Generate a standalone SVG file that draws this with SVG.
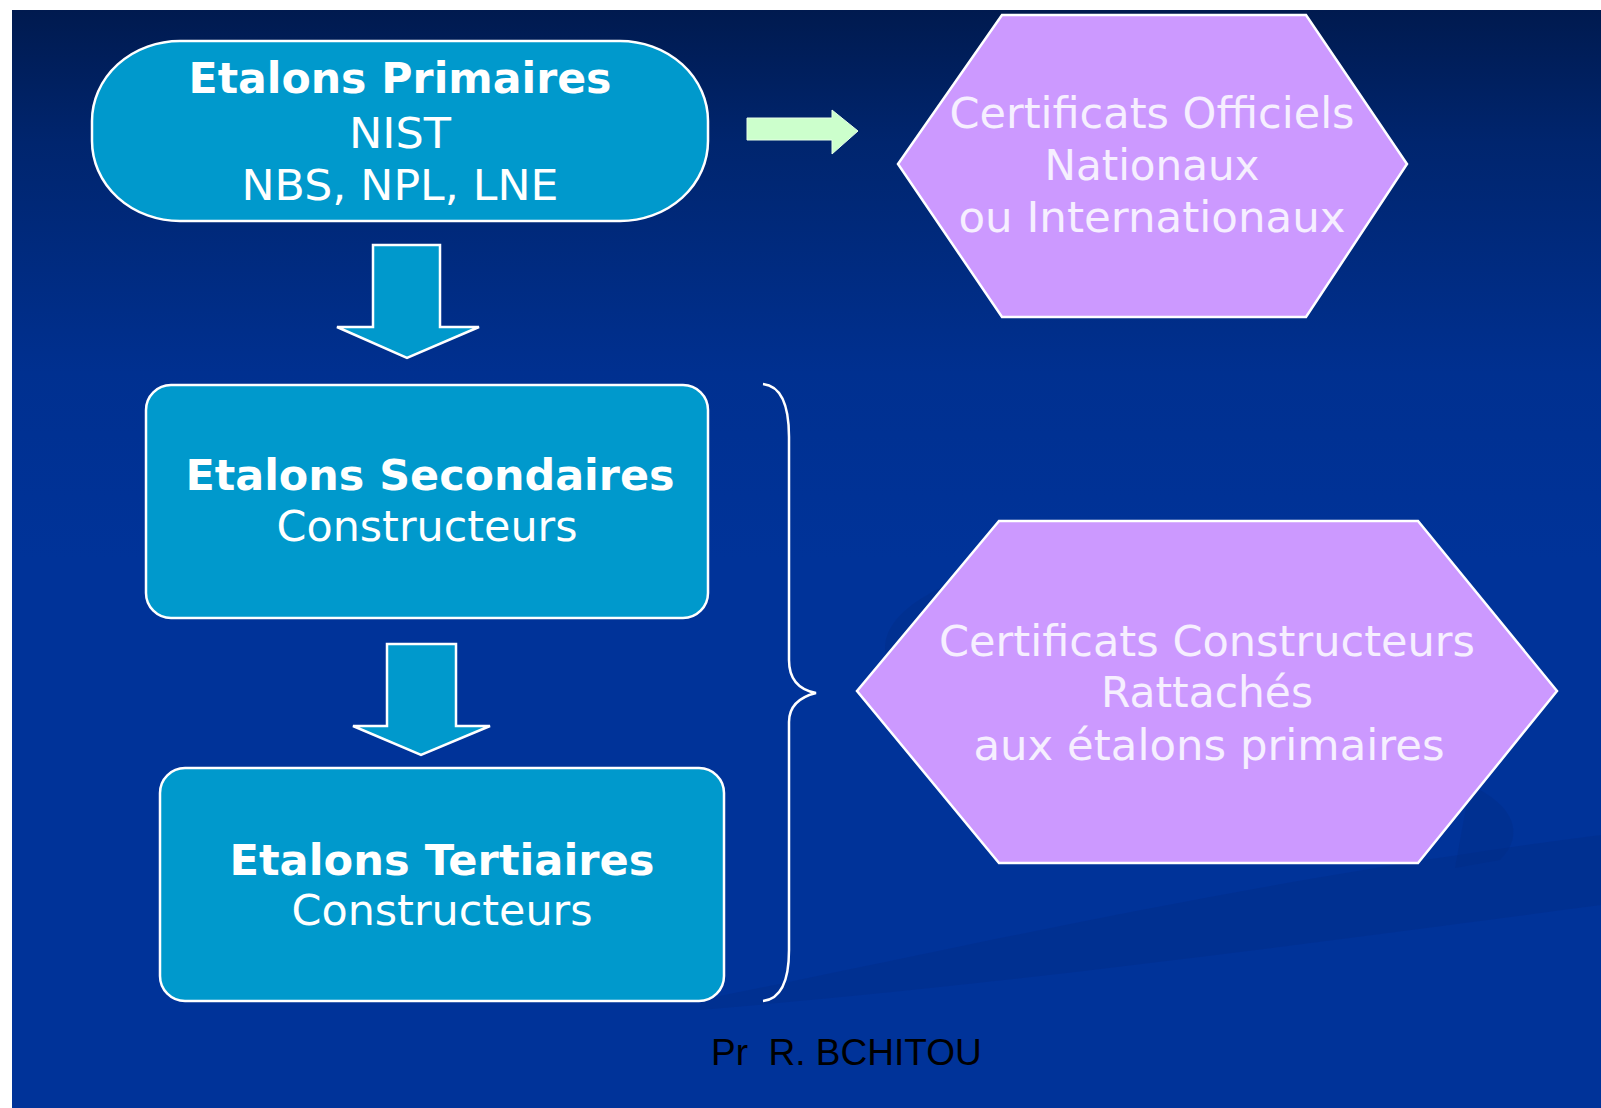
<svg xmlns="http://www.w3.org/2000/svg" width="1601" height="1108" viewBox="0 0 1601 1108">
  <defs>
    <linearGradient id="bg" x1="0" y1="0" x2="0" y2="1">
      <stop offset="0" stop-color="#001a4f"/>
      <stop offset="0.12" stop-color="#00256e"/>
      <stop offset="0.33" stop-color="#003090"/>
      <stop offset="0.5" stop-color="#003399"/>
      <stop offset="1" stop-color="#003399"/>
    </linearGradient>
  </defs>
  <style>
    .teal { fill: #0099cc; stroke: #ffffff; stroke-width: 2.5; }
    .lav { fill: #cc99ff; stroke: #ffffff; stroke-width: 2.5; }
    .t { font-family: "DejaVu Sans", Verdana, sans-serif; font-size: 42px; fill: #ffffff; text-anchor: middle; }
    .b { font-weight: bold; }
    .lt { fill: #f6efff; }
    .brace { fill: none; stroke: #ffffff; stroke-width: 2.5; }
    .swoosh { fill: #002a85; opacity: 0.35; }
  </style>

  <rect x="0" y="0" width="1601" height="1108" fill="#ffffff"/>
  <rect x="12" y="10" width="1589" height="1098" fill="url(#bg)"/>
  <g id="background-swooshes">
    <path class="swoosh" d="M700,1000 C950,950 1250,880 1601,835 L1601,905 C1300,945 1000,985 700,1010 Z"/>
    <path class="swoosh" d="M1000,565 C935,585 885,612 885,648 C885,682 930,692 985,684 Z"/>
    <path class="swoosh" d="M1470,785 C1515,805 1525,835 1500,860 L1455,868 Z"/>
  </g>

  <g id="node-primaires">
    <rect class="teal" x="92" y="41" width="616" height="180" rx="88" ry="80"/>
    <text class="t b" x="400" y="93" textLength="423" lengthAdjust="spacingAndGlyphs">Etalons Primaires</text>
    <text class="t" x="400" y="148" textLength="102" lengthAdjust="spacingAndGlyphs">NIST</text>
    <text class="t" x="400" y="200" textLength="317" lengthAdjust="spacingAndGlyphs">NBS, NPL, LNE</text>
  </g>

  <g id="node-certificats-officiels">
    <polygon class="lav" points="1002,15 1306,15 1407,164 1306,317 1002,317 898,164"/>
    <text class="t lt" x="1152" y="128" textLength="405" lengthAdjust="spacingAndGlyphs">Certificats Officiels</text>
    <text class="t lt" x="1152" y="180" textLength="215" lengthAdjust="spacingAndGlyphs">Nationaux</text>
    <text class="t lt" x="1152" y="232" textLength="387" lengthAdjust="spacingAndGlyphs">ou Internationaux</text>
  </g>

  <g id="node-secondaires">
    <rect class="teal" x="146" y="385" width="562" height="233" rx="25" ry="25"/>
    <text class="t b" x="430" y="490" textLength="489" lengthAdjust="spacingAndGlyphs">Etalons Secondaires</text>
    <text class="t" x="427" y="541" textLength="301" lengthAdjust="spacingAndGlyphs">Constructeurs</text>
  </g>

  <g id="node-tertiaires">
    <rect class="teal" x="160" y="768" width="564" height="233" rx="25" ry="25"/>
    <text class="t b" x="442" y="875" textLength="425" lengthAdjust="spacingAndGlyphs">Etalons Tertiaires</text>
    <text class="t" x="442" y="925" textLength="301" lengthAdjust="spacingAndGlyphs">Constructeurs</text>
  </g>

  <g id="node-certificats-constructeurs">
    <polygon class="lav" points="999,521 1418,521 1557,691 1418,863 999,863 857,691"/>
    <text class="t lt" x="1207" y="656" textLength="536" lengthAdjust="spacingAndGlyphs">Certificats Constructeurs</text>
    <text class="t lt" x="1207" y="707" textLength="212" lengthAdjust="spacingAndGlyphs">Rattachés</text>
    <text class="t lt" x="1209" y="760" textLength="471" lengthAdjust="spacingAndGlyphs">aux étalons primaires</text>
  </g>

  <g id="connectors">
    <polygon class="teal" points="373,245 440,245 440,327 479,327 407,358 337,327 373,327"/>
    <polygon class="teal" points="387,644 456,644 456,726 490,726 421,755 353,726 387,726"/>
    <polygon points="747,118 832,118 832,110 858,131 832,154 832,140 747,140" fill="#ccffcc" stroke="#e6ffe6" stroke-width="1"/>
    <path class="brace" d="M763,384 C781,386 789,405 789,437 L789,660 C789,680 800,690 816,693 C800,697 789,706 789,722 L789,950 C789,982 781,999 763,1001"/>
  </g>

  <text x="711" y="1065" font-family="'Liberation Sans', Arial, sans-serif" font-size="37" fill="#000000" style="white-space:pre">Pr  R. BCHITOU</text>
</svg>
